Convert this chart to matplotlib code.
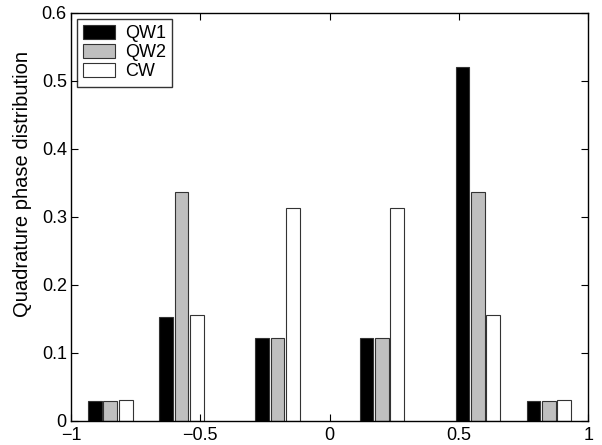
import matplotlib
matplotlib.use("Agg")
import matplotlib.pyplot as plt
import numpy as np

plt.rcParams['font.family'] = ['Liberation Sans', 'DejaVu Sans']

positions = [-0.848, -0.573, -0.202, 0.202, 0.573, 0.848]
qw1 = [0.030, 0.153, 0.122, 0.122, 0.520, 0.030]
qw2 = [0.030, 0.336, 0.122, 0.122, 0.336, 0.030]
cw = [0.031, 0.156, 0.313, 0.313, 0.156, 0.031]
series_names = ["QW1", "QW2", "CW"]
colors = ["black", "#bfbfbf", "white"]
xticks = [-1, -0.5, 0, 0.5, 1]
yticks = [0, 0.1, 0.2, 0.3, 0.4, 0.5, 0.6]

fig = plt.figure(figsize=(6.02, 4.45), dpi=100)
ax = fig.add_axes([0.118, 0.054, 0.859, 0.917])

slot = 0.0593
width = 0.053
pos = np.array(positions)
for i, (vals, name, col) in enumerate(zip([qw1, qw2, cw], series_names, colors)):
    ax.bar(pos + (i - 1) * slot, vals, width=width, color=col,
           edgecolor="#333333", linewidth=0.8, label=name)

ax.set_xlim(-1, 1)
ax.set_ylim(0, 0.6)
ax.set_xticks(xticks)
ax.set_xticklabels(["\u22121", "\u22120.5", "0", "0.5", "1"])
ax.set_yticks(yticks)
ax.set_yticklabels(["0", "0.1", "0.2", "0.3", "0.4", "0.5", "0.6"])
ax.tick_params(direction="in", top=True, right=True, labelsize=13, length=5, width=0.8, pad=3)
ax.tick_params(axis="x", pad=4)
for s in ax.spines.values():
    s.set_linewidth(1.0)
ax.set_ylabel("Quadrature phase distribution", fontsize=14.5)
ax.yaxis.set_label_coords(-0.076, 0.581)

leg = ax.legend(loc="upper left", fontsize=13, frameon=True, fancybox=False,
                edgecolor="black", borderaxespad=0.33, handlelength=1.75,
                handleheight=0.8, labelspacing=0.1, borderpad=0.35, handletextpad=0.55)
leg.get_frame().set_linewidth(1.0)

fig.savefig("out.png", dpi=100)
